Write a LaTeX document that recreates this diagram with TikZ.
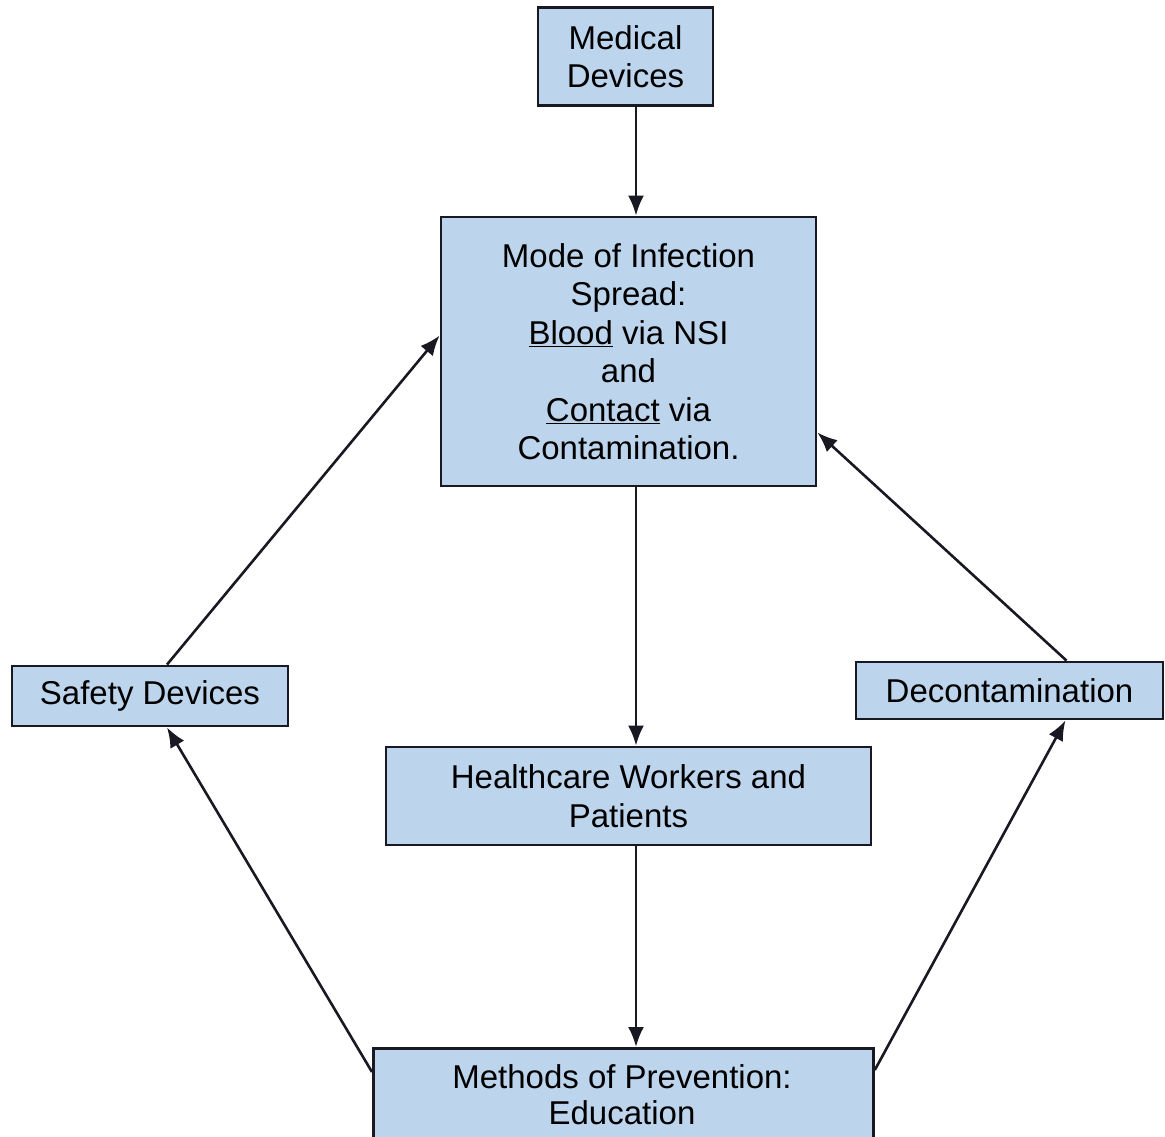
\documentclass[tikz,border=0pt]{standalone}
\usepackage{fontspec}
\setmainfont{Liberation Sans}
\usetikzlibrary{arrows.meta,calc}
\definecolor{boxfill}{RGB}{188,212,236}
\definecolor{boxline}{RGB}{25,25,35}
\begin{document}
\begin{tikzpicture}[x=1pt,y=-1pt,
  box/.style={draw=boxline,fill=boxfill,line width=2.8pt,inner sep=0pt,align=center,
    font=\fontsize{33}{38.5}\selectfont},
  conn/.style={draw=boxline,line width=2.6pt},
  arr/.style={conn,-{Latex[length=20pt,width=16pt]}}]
\useasboundingbox (0,0) rectangle (1165,1137);
\fill[white] (0,0) rectangle (1165,1137);
\clip (0,0) rectangle (1165,1137);
% nodes
\node[box,minimum width=175pt,minimum height=98pt] (med) at (625.5,56.5) {Medical\\Devices};
\node[box,minimum width=375pt,minimum height=269pt] (mode) at (628.5,351.5)
  {Mode of Infection\\Spread:\\\underline{Blood} via NSI\\and\\\underline{Contact} via\\Contamination.};
\node[box,minimum width=276pt,minimum height=60pt] (saf) at (150,696) {Safety Devices};
\node[box,minimum width=307pt,minimum height=57pt] (dec) at (1009.5,690.5) {Decontamination};
\node[box,minimum width=485pt,minimum height=98pt] (hcw) at (628.5,796) {Healthcare Workers and\\Patients};
\node[box,anchor=north west,minimum width=500pt,minimum height=190pt] (meth) at (372,1047) {};
\node[align=center,inner sep=0pt,font=\fontsize{33}{36}\selectfont] (methtxt) at (622,1095) {Methods of Prevention:\\Education};
% vertical axis of the main arrows
\coordinate (ax) at (636,0);
\draw[arr] (med.south -| ax) -- (mode.north -| ax);
\draw[arr] (mode.south -| ax) -- (hcw.north -| ax);
\draw[arr] (hcw.south -| ax) -- (meth.north -| ax);
% diagonal connectors
\draw[arr] ($(meth.north west)+(0,25)$) -- ($(saf.south)+(17,0)$);
\draw[arr] ($(saf.north)+(17,0)$) -- ($(mode.west)+(0,-16)$);
\draw[arr] ($(meth.north east)+(0,23)$) -- ($(dec.south)+(56,0)$);
\draw[arr] ($(dec.north)+(57,0)$) -- ($(mode.east)+(0,81)$);
\end{tikzpicture}
\end{document}
